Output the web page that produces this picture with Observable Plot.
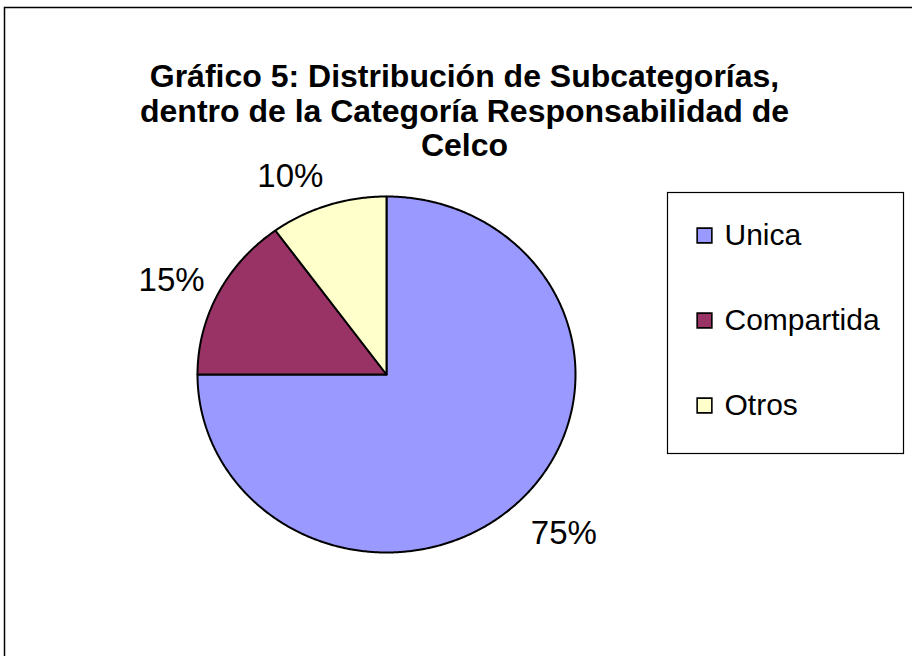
<!DOCTYPE html>
<html>
<head>
<meta charset="utf-8">
<script src="https://cdn.jsdelivr.net/npm/d3@7"></script>
<script src="https://cdn.jsdelivr.net/npm/@observablehq/plot@0.6"></script>
<style>
  html, body { margin: 0; padding: 0; background: #fff; overflow: hidden; }
  #chart svg { display: block; }
</style>
</head>
<body>
<div id="chart"></div>
<script>
// ---- data ----
const categories = ["Unica", "Compartida", "Otros"];
const values = [75, 15, 10];
const valueLabels = ["75%", "15%", "10%"];
const colors = ["#9999FF", "#993366", "#FFFFCC"];
const titleLines = [
  "Gráfico 5: Distribución de Subcategorías,",
  "dentro de la Categoría Responsabilidad de",
  "Celco"
];

// ---- layout ----
const W = 912, H = 656;
const cx = 386, cy = 374, rx = 189, ry = 178;
const font = "'Liberation Sans', Arial, Helvetica, sans-serif";

// ---- build slice geometry from values ----
const total = d3.sum(values);
let cum = 0;
const pts = [];
const labelData = [];
categories.forEach((cat, i) => {
  const a0 = cum / total * 2 * Math.PI;
  cum += values[i];
  const a1 = cum / total * 2 * Math.PI;
  pts.push({cat, x: 0, y: 0});
  const n = Math.max(2, Math.ceil((a1 - a0) / (Math.PI / 360)));
  for (let k = 0; k <= n; k++) {
    const a = a0 + (a1 - a0) * k / n;
    pts.push({cat, x: Math.sin(a), y: Math.cos(a)});
  }
  pts.push({cat, x: 0, y: 0});
  const m = (a0 + a1) / 2;
  labelData.push({
    label: valueLabels[i],
    x: Math.sin(m) * 1.08,
    y: Math.cos(m) * 1.17,
    side: Math.sin(m) < 0 ? "left" : "right"
  });
});

const legendMarks = [];
categories.forEach((cat, i) => {
  const yy = 235 + i * 85;
  legendMarks.push(Plot.dot([cat], {
    frameAnchor: "top-left", dx: 704, dy: yy,
    symbol: "square", r: 8.3, fill: colors[i], stroke: "#000", strokeWidth: 1.6
  }));
  legendMarks.push(Plot.text([cat], {
    frameAnchor: "top-left", dx: 724, dy: yy, text: d => d,
    textAnchor: "start", lineAnchor: "middle", fontSize: 30, fill: "#000"
  }));
});

const chart = Plot.plot({
  width: W, height: H,
  marginLeft: 0, marginRight: 0, marginTop: 0, marginBottom: 0,
  style: {fontFamily: font, background: "#fff", overflow: "hidden"},
  x: {domain: [-1, 1], range: [cx - rx, cx + rx], axis: null},
  y: {domain: [-1, 1], range: [cy + ry, cy - ry], axis: null},
  color: {domain: categories, range: colors},
  marks: [
    // outer chart frame
    Plot.frame({stroke: "#000", strokeWidth: 1.5, insetLeft: 4, insetTop: 7, insetRight: -6, insetBottom: -6}),
    // title
    Plot.text([titleLines.join("\n")], {
      frameAnchor: "top", dx: 8, dy: 62, text: d => d,
      lineAnchor: "top", lineHeight: 1.08, fontSize: 32, fontWeight: "bold", fill: "#000"
    }),
    // pie slices
    Plot.line(pts, {x: "x", y: "y", z: "cat", fill: "cat", stroke: "#000", strokeWidth: 2, strokeLinejoin: "round"}),
    // value labels
    Plot.text(labelData.filter(d => d.side === "left"), {
      x: "x", y: "y", text: "label", textAnchor: "end", lineAnchor: "middle", fontSize: 33, fill: "#000"
    }),
    Plot.text(labelData.filter(d => d.side === "right"), {
      x: "x", y: "y", dy: 12, text: "label", textAnchor: "start", lineAnchor: "middle", fontSize: 33, fill: "#000"
    }),
    // legend box
    Plot.frame({stroke: "#000", strokeWidth: 1.2, insetLeft: 667, insetTop: 192, insetRight: W - 903, insetBottom: H - 453}),
    ...legendMarks
  ]
});
document.getElementById("chart").appendChild(chart);
</script>
</body>
</html>
